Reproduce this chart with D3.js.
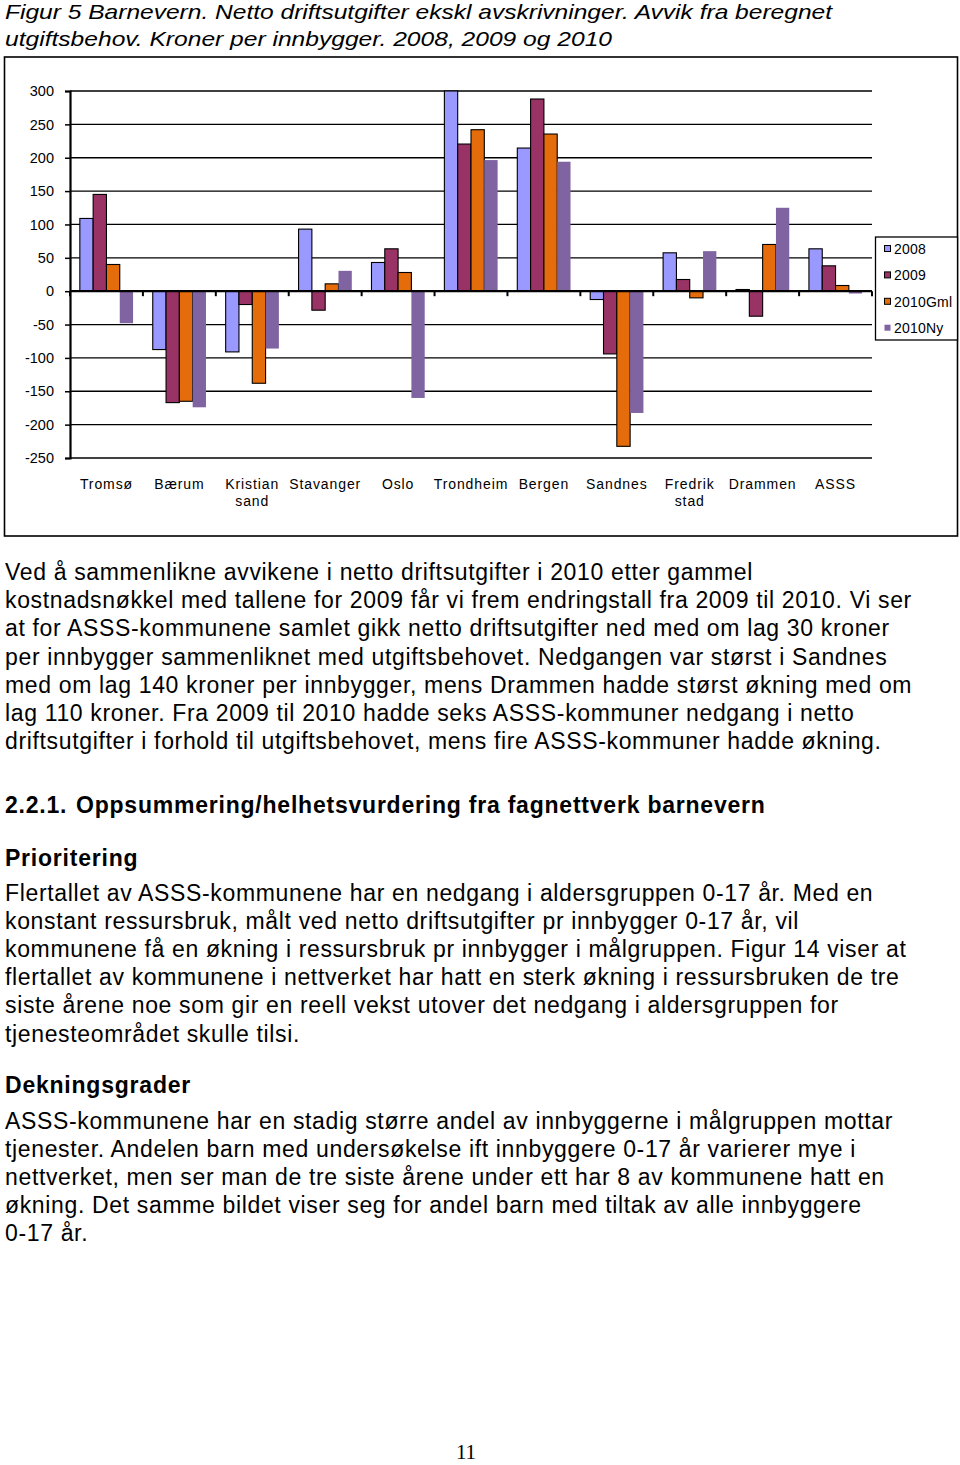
<!DOCTYPE html>
<html><head><meta charset="utf-8">
<script src="https://cdn.jsdelivr.net/npm/d3@7"></script>
<style>
html,body{margin:0;padding:0;background:#fff;}
svg{display:block;}
text{font-family:"Liberation Sans",Arial,Helvetica,sans-serif;fill:#000;}
</style></head>
<body>
<svg id="page" width="960" height="1465"></svg>
<script>
const categories = ["Tromsø","Bærum","Kristiansand","Stavanger","Oslo","Trondheim","Bergen","Sandnes","Fredrikstad","Drammen","ASSS"];
const categoryLabels = [["Tromsø"],["Bærum"],["Kristian","sand"],["Stavanger"],["Oslo"],["Trondheim"],["Bergen"],["Sandnes"],["Fredrik","stad"],["Drammen"],["ASSS"]];
const seriesNames = ["2008","2009","2010Gml","2010Ny"];
const values2008    = [109, -87.5, -91, 93, 43, 300, 214.5, -12.5, 57.5, 2.5, 63.5];
const values2009    = [145, -167, -20, -28.5, 63.5, 220.5, 288, -94, 17.5, -37.5, 38];
const values2010Gml = [40, -165, -138, 11, 28, 242, 235.5, -232.5, -10, 70, 8.5];
const values2010Ny  = [-48, -174, -86, 30.5, -160, 196.5, 194, -182.5, 60, 125, -3.5];
const yTicks = [-250,-200,-150,-100,-50,0,50,100,150,200,250,300];
const seriesColors = ["#9999FF","#993366","#E46C0A","#8064A2"];

const titleLines = [
  "Figur 5 Barnevern. Netto driftsutgifter ekskl avskrivninger. Avvik fra beregnet",
  "utgiftsbehov. Kroner per innbygger. 2008, 2009 og 2010"
];
const para1 = [
  "Ved å sammenlikne avvikene i netto driftsutgifter i 2010 etter gammel",
  "kostnadsnøkkel med tallene for 2009 får vi frem endringstall fra 2009 til 2010. Vi ser",
  "at for ASSS-kommunene samlet gikk netto driftsutgifter ned med om lag 30 kroner",
  "per innbygger sammenliknet med utgiftsbehovet. Nedgangen var størst i Sandnes",
  "med om lag 140 kroner per innbygger, mens Drammen hadde størst økning med om",
  "lag 110 kroner. Fra 2009 til 2010 hadde seks ASSS-kommuner nedgang i netto",
  "driftsutgifter i forhold til utgiftsbehovet, mens fire ASSS-kommuner hadde økning."
];
const para2 = [
  "Flertallet av ASSS-kommunene har en nedgang i aldersgruppen 0-17 år. Med en",
  "konstant ressursbruk, målt ved netto driftsutgifter pr innbygger 0-17 år, vil",
  "kommunene få en økning i ressursbruk pr innbygger i målgruppen. Figur 14 viser at",
  "flertallet av kommunene i nettverket har hatt en sterk økning i ressursbruken de tre",
  "siste årene noe som gir en reell vekst utover det nedgang i aldersgruppen for",
  "tjenesteområdet skulle tilsi."
];
const para3 = [
  "ASSS-kommunene har en stadig større andel av innbyggerne i målgruppen mottar",
  "tjenester. Andelen barn med undersøkelse ift innbyggere 0-17 år varierer mye i",
  "nettverket, men ser man de tre siste årene under ett har 8 av kommunene hatt en",
  "økning. Det samme bildet viser seg for andel barn med tiltak av alle innbyggere",
  "0-17 år."
];

const svg = d3.select("#page");
const seriesValues = [values2008, values2009, values2010Gml, values2010Ny];
const data = categories.map((c,i)=>({cat:c, vals:seriesNames.map((s,j)=>({key:s, j, v:seriesValues[j][i]}))}));

// Title
svg.selectAll("text.title").data(titleLines).join("text")
  .attr("class","title")
  .attr("x",5).attr("y",(d,i)=>19+i*27)
  .attr("textLength",(d,i)=>i===0?827:607)
  .attr("lengthAdjust","spacingAndGlyphs")
  .style("font-family","'Liberation Sans Narrow','Arial Narrow','Liberation Sans',sans-serif")
  .style("font-style","italic")
  .style("font-size","21px")
  .text(d=>d);

// Chart frame
svg.append("rect").attr("x",4.5).attr("y",57).attr("width",953).attr("height",479)
  .attr("fill","none").attr("stroke","#000").attr("stroke-width",1.6);

const plotL = 70, plotR = 872;
const y = d3.scaleLinear().domain([-250,300]).range([458,91]);
const x0 = d3.scaleBand().domain(categories).range([plotL,plotR]).paddingInner(0.27).paddingOuter(0.135);
const x1 = d3.scaleBand().domain(seriesNames).range([0,x0.bandwidth()]);

// gridlines
svg.append("g").selectAll("line").data(yTicks).join("line")
  .attr("x1",plotL).attr("x2",plotR)
  .attr("y1",d=>y(d)).attr("y2",d=>y(d))
  .attr("stroke","#000").attr("stroke-width",1.3);

// y axis
const yAxis = d3.axisLeft(y).tickValues(yTicks).tickSize(5).tickPadding(11).tickFormat(d=>String(d));
const ga = svg.append("g").attr("transform",`translate(${plotL},0)`).call(yAxis);
ga.select(".domain").attr("stroke","#000").attr("stroke-width",2.2);
ga.selectAll(".tick line").attr("stroke","#000").attr("stroke-width",1.5);
ga.selectAll(".tick text").style("font-size","14.5px").style("font-family","'Liberation Sans',Arial,sans-serif").attr("fill","#000");

// bars
const groups = svg.append("g").selectAll("g").data(data).join("g")
  .attr("transform",d=>`translate(${x0(d.cat)},0)`);
groups.selectAll("rect").data(d=>d.vals).join("rect")
  .attr("x",d=>x1(d.key)).attr("width",x1.bandwidth())
  .attr("y",d=>y(Math.max(0,d.v)))
  .attr("height",d=>Math.abs(y(d.v)-y(0)))
  .attr("fill",d=>seriesColors[d.j])
  .attr("stroke",d=>d.j<3?"#000":"none")
  .attr("stroke-width",1.1);

// zero axis line with category ticks
svg.append("line").attr("x1",plotL).attr("x2",plotR).attr("y1",y(0)).attr("y2",y(0))
  .attr("stroke","#000").attr("stroke-width",2.2);
const bounds = d3.range(categories.length+1).map(i=>plotL+i*x0.step());
svg.append("g").selectAll("line").data(bounds).join("line")
  .attr("x1",d=>d).attr("x2",d=>d).attr("y1",y(0)).attr("y2",y(0)+5)
  .attr("stroke","#000").attr("stroke-width",2);

// category labels
const lab = svg.append("g").selectAll("text").data(categories).join("text")
  .attr("x",d=>x0(d)+x0.bandwidth()/2)
  .attr("y",489)
  .attr("text-anchor","middle")
  .style("font-size","14px").style("letter-spacing","0.9px");
lab.selectAll("tspan").data((d,i)=>categoryLabels[i]).join("tspan")
  .attr("x",function(){return this.parentNode.getAttribute("x");})
  .attr("dy",(d,i)=>i===0?0:17)
  .text(d=>d);

// legend
svg.append("rect").attr("x",875.5).attr("y",237).attr("width",82).attr("height",103)
  .attr("fill","#fff").attr("stroke","#000").attr("stroke-width",1.3);
const leg = svg.append("g").selectAll("g").data(seriesNames).join("g")
  .attr("transform",(d,i)=>`translate(884,${249+i*26.4})`);
leg.append("rect").attr("x",0.5).attr("y",-3.5).attr("width",6).attr("height",6)
  .attr("fill",(d,i)=>seriesColors[i]).attr("stroke",(d,i)=>i<3?"#000":"none").attr("stroke-width",1);
leg.append("text").attr("x",10).attr("y",5).style("font-size","14px").style("letter-spacing","0.2px").text(d=>d);

// body text
const bodySize = "23px", bodySpacing = "0.65px";
function para(lines, y0, lh){
  svg.append("g").selectAll("text").data(lines).join("text")
    .attr("x",5).attr("y",(d,i)=>y0+i*lh)
    .style("font-size",bodySize).style("letter-spacing",bodySpacing).text(d=>d);
}
function heading(txt, x, yy){
  svg.append("text").attr("x",x).attr("y",yy).style("font-size",bodySize)
    .style("letter-spacing","0.78px").style("font-weight","bold").text(txt);
}
para(para1, 580, 28.2);
heading("2.2.1.", 5, 813);
heading("Oppsummering/helhetsvurdering fra fagnettverk barnevern", 76, 813);
heading("Prioritering", 5, 866);
para(para2, 901, 28.1);
heading("Dekningsgrader", 5, 1093);
para(para3, 1129, 28.1);

svg.append("text").attr("x",466).attr("y",1459).attr("text-anchor","middle")
  .style("font-family","'Liberation Serif','Times New Roman',serif").style("font-size","21px").text("11");
</script>
</body></html>
